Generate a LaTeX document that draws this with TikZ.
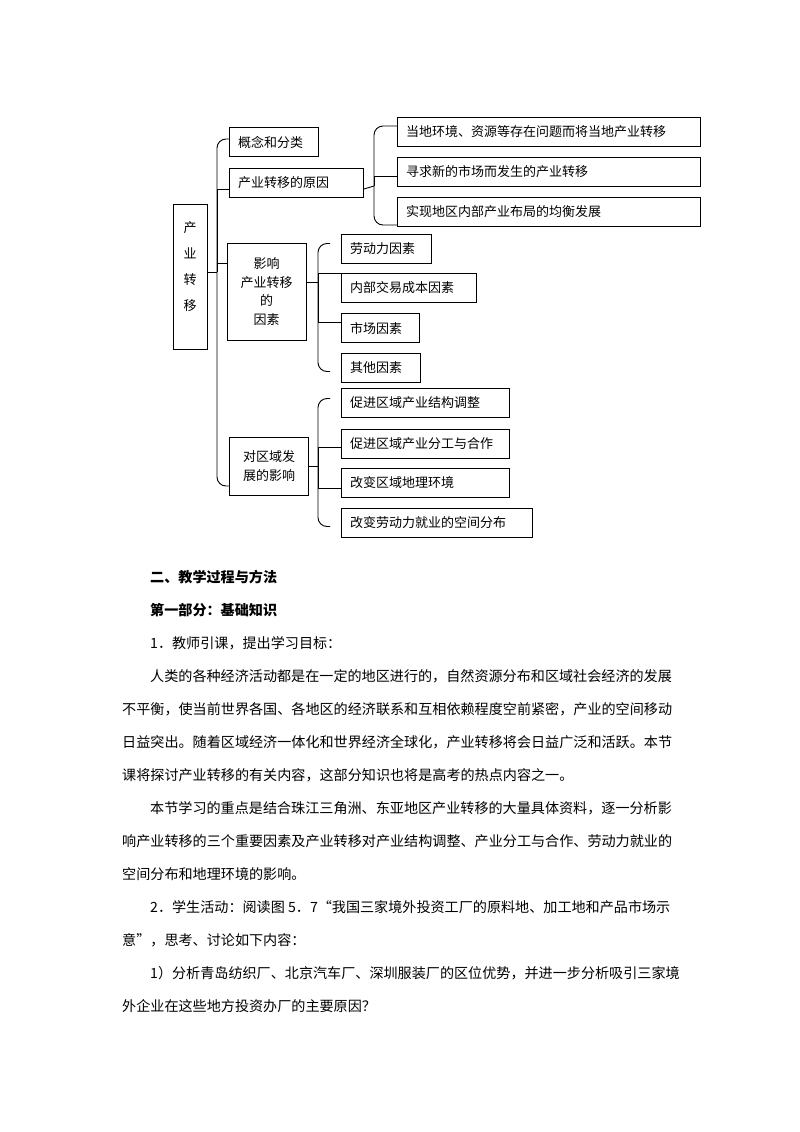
\documentclass[tikz,border=0pt]{standalone}
\usepackage{fontspec}
\setmainfont{Noto Sans CJK SC}
\usetikzlibrary{positioning,calc}

\begin{document}
\begin{tikzpicture}[x=1pt,y=-1pt,
            box/.style={draw,rectangle,line width=1pt,inner xsep=0pt,inner ysep=0pt,font=\fontsize{13}{18.7}\selectfont},
            item/.style={box,anchor=north west,minimum height=29pt,text width=#1,align=left,inner xsep=8.5pt},
            link/.style={draw,line width=0.9pt,rounded corners=9pt},
            branch/.style={draw,line width=0.9pt},
            body/.style={anchor=west,inner sep=0pt,font=\fontsize{14.1}{16}\selectfont}
          ]
          \useasboundingbox (0,0) rectangle (800,1132);

          \node[box,minimum width=34pt,minimum height=145pt,align=center,text depth=20pt,font=\fontsize{13}{26}\selectfont] (root) at (190,276.5) {产\\业\\转\\移};

          %first level
          \node[item=72pt] (gainian) at (229,127) {概念和分类};
          \node[item=117pt,below=11pt of gainian.south west,anchor=north west] (yuanyin) {产业转移的原因};
          \node[box,minimum width=79pt,minimum height=97pt,align=center] (yinsu) at (266.5,291.5) {影响\\产业转移\\的\\因素};
          \node[box,minimum width=79pt,minimum height=58pt,inner xsep=8pt,align=left,anchor=west] (yingxiang) at (229,466) {对区域发\\展的影响};

          %reasons
          \node[item=286pt] (dangdi) at (397,117) {当地环境、资源等存在问题而将当地产业转移};
          \node[item=286pt,below=10pt of dangdi.south west,anchor=north west] (xinshichang) {寻求新的市场而发生的产业转移};
          \node[item=286pt,below=10pt of xinshichang.south west,anchor=north west] (junheng) {实现地区内部产业布局的均衡发展};

          %factors
          \node[item=73pt] (laodong) at (341,234) {劳动力因素};
          \node[item=118pt,below=9pt of laodong.south west,anchor=north west] (jiaoyi) {内部交易成本因素};
          \node[item=61pt,below=10pt of jiaoyi.south west,anchor=north west] (shichang) {市场因素};
          \node[item=62pt,below=10pt of shichang.south west,anchor=north west] (qita) {其他因素};

          %effects
          \node[item=151pt] (jiegou) at (341,388) {促进区域产业结构调整};
          \node[item=151pt,below=11pt of jiegou.south west,anchor=north west] (fengong) {促进区域产业分工与合作};
          \node[item=151pt,below=9pt of fengong.south west,anchor=north west] (dili) {改变区域地理环境};
          \node[item=174pt,below=10pt of dili.south west,anchor=north west] (jiuye) {改变劳动力就业的空间分布};

          %spines
          \coordinate (trunk) at (217,272);
          \coordinate (rspine) at (374,186);
          \coordinate (fspine) at (318,282);
          \coordinate (espine) at (318,466);

          \path[branch] (root.east |- trunk) -- (trunk);
          \path[link] ($(gainian.west)+(0,-3)$) -| (trunk) |- ($(yingxiang.west)+(0,20)$);
          \path[branch] ($(yuanyin.west)+(0,6)$) -| (trunk);
          \path[branch] ($(yinsu.west)+(0,-28.5)$) -| (trunk);

          \path[branch] ($(yuanyin.east)+(0,6)$) -- (rspine);
          \path[link] ($(dangdi.west)+(0,-6)$) -| (rspine) |- ($(junheng.west)+(0,13)$);
          \path[branch] ($(xinshichang.west)+(0,4.5)$) -| (rspine);

          \path[branch] ($(yinsu.east)+(0,-9.5)$) -- (fspine);
          \path[link] ($(laodong.west)+(-11,-5.5)$) -| (fspine) |- ($(qita.west)+(-11,3.5)$);
          \path[branch] (jiaoyi.north west) -| (fspine);
          \path[branch] ($(shichang.west)+(0,-5.5)$) -| (fspine);

          \path[branch] (yingxiang.east) -- (espine);
          \path[link] ($(jiegou.west)+(-11,-4.5)$) -| (espine) |- ($(jiuye.west)+(-11,3.5)$);
          \path[branch] ($(fengong.west)+(0,3.5)$) -| (espine);
          \path[branch] ($(dili.west)+(0,5.5)$) -| (espine);

          %text
          \node[body,font=\fontsize{14.1}{16}\selectfont\bfseries] (l1) at (150,577) {二、教学过程与方法};
          \node[body,font=\fontsize{14.1}{16}\selectfont\bfseries] (l2) at (150,610) {第一部分：基础知识};
          \node[body] (l3) at (150,643) {1．教师引课，提出学习目标：};
          \node[body] (l4) at (150,676) {人类的各种经济活动都是在一定的地区进行的，自然资源分布和区域社会经济的发展};
          \node[body] (l5) at (122,709) {不平衡，使当前世界各国、各地区的经济联系和互相依赖程度空前紧密，产业的空间移动};
          \node[body] (l6) at (122,742) {日益突出。随着区域经济一体化和世界经济全球化，产业转移将会日益广泛和活跃。本节};
          \node[body] (l7) at (122,775) {课将探讨产业转移的有关内容，这部分知识也将是高考的热点内容之一。};
          \node[body] (l8) at (150,808) {本节学习的重点是结合珠江三角洲、东亚地区产业转移的大量具体资料，逐一分析影};
          \node[body] (l9) at (122,841) {响产业转移的三个重要因素及产业转移对产业结构调整、产业分工与合作、劳动力就业的};
          \node[body] (l10) at (122,874) {空间分布和地理环境的影响。};
          \node[body] (l11) at (150,907) {2．学生活动：阅读图 5．7“我国三家境外投资工厂的原料地、加工地和产品市场示};
          \node[body] (l12) at (122,940) {意”，思考、讨论如下内容：};
          \node[body] (l13) at (150,973) {1）分析青岛纺织厂、北京汽车厂、深圳服装厂的区位优势，并进一步分析吸引三家境};
          \node[body] (l14) at (122,1006) {外企业在这些地方投资办厂的主要原因？};
      \end{tikzpicture}
\end{document}
